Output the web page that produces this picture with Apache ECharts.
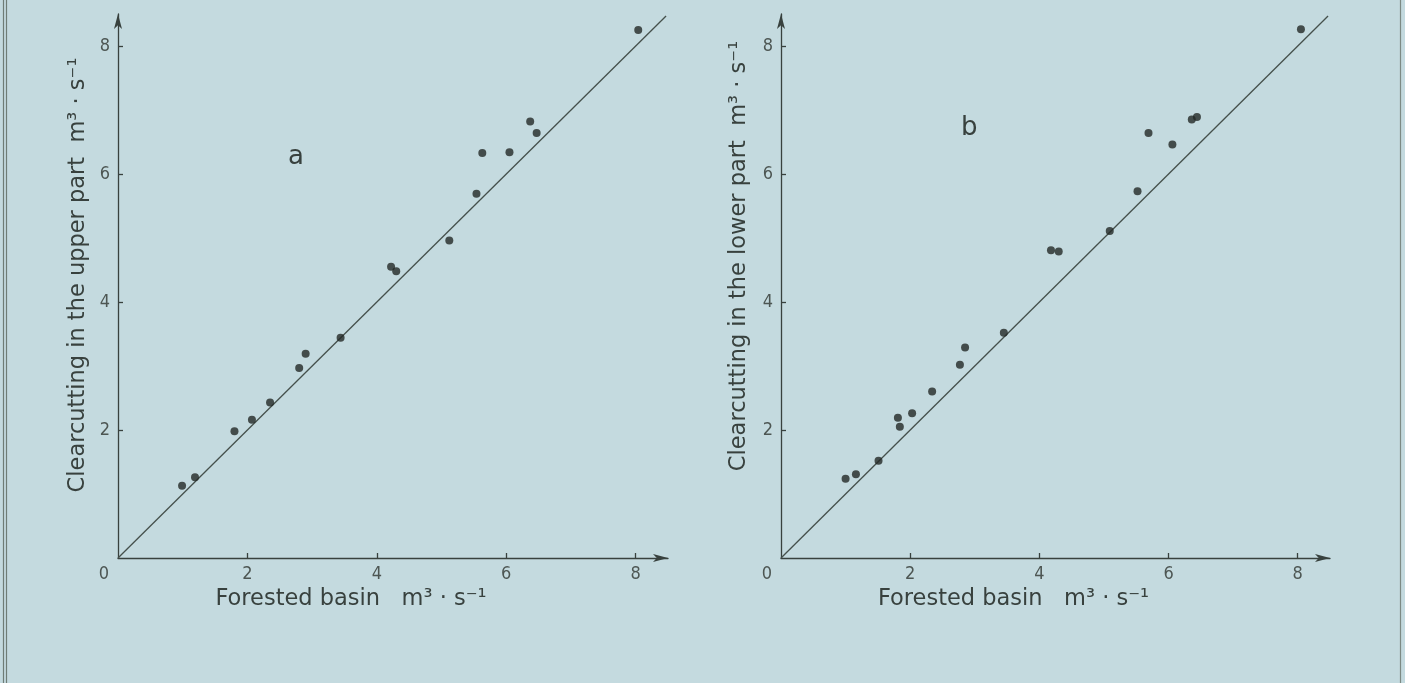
<!DOCTYPE html>
<html><head><meta charset="utf-8">
<script src="https://cdn.jsdelivr.net/npm/echarts@6/dist/echarts.min.js"></script>
<style>html,body{margin:0;padding:0;background:#c4dadf}#c{width:1405px;height:683px}</style>
</head><body><div id="c"></div>
<script>
// ---- data ----
const tickValues = [0, 2, 4, 6, 8];
const xA = [0.99, 1.19, 1.80, 2.07, 2.35, 2.80, 2.90, 3.44, 4.22, 4.30, 5.12, 5.54, 5.63, 6.05, 6.37, 6.47, 8.04];
const yA = [1.13, 1.26, 1.98, 2.16, 2.43, 2.97, 3.19, 3.44, 4.55, 4.48, 4.96, 5.69, 6.33, 6.34, 6.82, 6.64, 8.25];
const xB = [1.00, 1.16, 1.51, 1.81, 1.84, 2.03, 2.34, 2.77, 2.85, 3.45, 4.18, 4.30, 5.09, 5.52, 5.69, 6.06, 6.36, 6.44, 8.05];
const yB = [1.24, 1.31, 1.52, 2.19, 2.05, 2.26, 2.60, 3.02, 3.29, 3.52, 4.81, 4.79, 5.11, 5.73, 6.64, 6.46, 6.85, 6.89, 8.26];
const diagonal = [0, 8.47];
const panelLabels = ['a', 'b'];
const xName = 'Forested basin   m³ · s⁻¹';
const yNames = ['Clearcutting in the upper part  m³ · s⁻¹', 'Clearcutting in the lower part  m³ · s⁻¹'];

// ---- style ----
const ink = '#38413e';
const tickFont = "'DejaVu Sans Condensed','Liberation Sans Narrow','DejaVu Sans',sans-serif";
const nameFont = "'DejaVu Sans',sans-serif";

function pairs(xs, ys) { return xs.map((x, i) => [x, ys[i]]); }

function makeX(gi) {
  return {
    type: 'value', gridIndex: gi, min: 0, max: 8.5, interval: 2,
    splitLine: { show: false },
    axisLine: { show: true, lineStyle: { color: ink, width: 1.3 }, symbol: ['none', 'arrow'], symbolSize: [6, 15] },
    axisTick: { show: true, inside: true, length: 5, customValues: [2, 4, 6, 8], lineStyle: { color: ink, width: 1.3 } },
    axisLabel: {
      customValues: tickValues, margin: 7, fontFamily: tickFont, fontSize: 18, color: '#4d5653',
      formatter: v => v === 0 ? '{z|0}' : String(v),
      rich: { z: { padding: [0, 28, 0, 0], fontFamily: tickFont, fontSize: 18, color: '#4d5653' } }
    },
    name: xName, nameLocation: 'middle', nameGap: 29,
    nameTextStyle: { fontFamily: nameFont, fontSize: 22.5, color: ink, padding: [0, 84, 0, 0] }
  };
}
function makeY(gi, gap, shift) {
  return {
    type: 'value', gridIndex: gi, min: 0, max: 8.5, interval: 2,
    splitLine: { show: false },
    axisLine: { show: true, lineStyle: { color: ink, width: 1.3 }, symbol: ['none', 'arrow'], symbolSize: [6, 15] },
    axisTick: { show: true, inside: true, length: 5, customValues: [2, 4, 6, 8], lineStyle: { color: ink, width: 1.3 } },
    axisLabel: { customValues: [2, 4, 6, 8], margin: 8, fontFamily: tickFont, fontSize: 18, color: '#4d5653' },
    name: yNames[gi], nameLocation: 'middle', nameGap: gap, nameRotate: 90,
    nameTextStyle: { fontFamily: nameFont, fontSize: 22.5, color: ink, padding: [0, 0, 0, shift] }
  };
}
function scatter(gi, xs, ys) {
  return { type: 'scatter', xAxisIndex: gi, yAxisIndex: gi, data: pairs(xs, ys), symbolSize: 8,
    itemStyle: { color: '#232826' }, silent: true, z: 3 };
}
function diag(gi) {
  return { type: 'line', xAxisIndex: gi, yAxisIndex: gi, data: diagonal.map(v => [v, v]), symbol: 'none',
    lineStyle: { color: '#45504c', width: 1.3 }, silent: true, z: 2 };
}

const chart = echarts.init(document.getElementById('c'), null, { renderer: 'canvas' });
chart.setOption({
  backgroundColor: '#c4dadf',
  animation: false,
  title: [
    { text: panelLabels[0], left: 283, top: 139, textStyle: { fontFamily: nameFont, fontSize: 26, fontWeight: 'normal', color: ink } },
    { text: panelLabels[1], left: 956, top: 110, textStyle: { fontFamily: nameFont, fontSize: 26, fontWeight: 'normal', color: ink } }
  ],
  grid: [
    { left: 118, top: 14, width: 550, height: 544 },
    { left: 781, top: 14, width: 549, height: 544 }
  ],
  xAxis: [makeX(0), makeX(1)],
  yAxis: [makeY(0, 28, 22), makeY(1, 30, 60)],
  series: [diag(0), scatter(0, xA, yA), diag(1), scatter(1, xB, yB)],
  graphic: [
    { type: 'line', shape: { x1: 3.5, y1: 0, x2: 3.5, y2: 683 }, style: { stroke: '#6f7d77', lineWidth: 1.2 } },
    { type: 'line', shape: { x1: 6.5, y1: 0, x2: 6.5, y2: 683 }, style: { stroke: '#6f7d77', lineWidth: 1.2 } },
    { type: 'line', shape: { x1: 1400.5, y1: 0, x2: 1400.5, y2: 683 }, style: { stroke: '#7d8a84', lineWidth: 1.2 } }
  ]
});
</script></body></html>
